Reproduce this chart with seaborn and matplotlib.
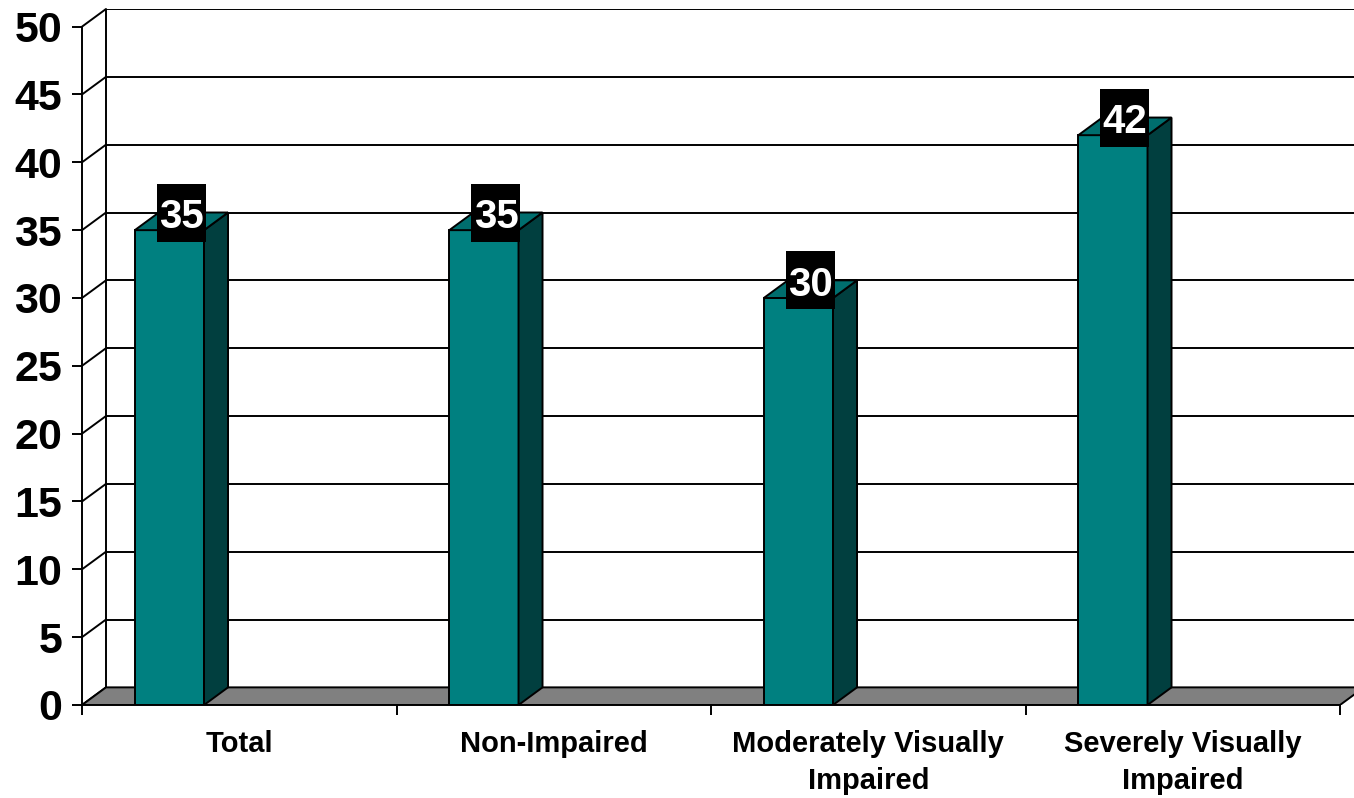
import numpy as np
import pandas as pd
import matplotlib
matplotlib.use("Agg")
import matplotlib.pyplot as plt
from matplotlib.patches import Polygon, Rectangle
import seaborn as sns

# Data
groups = ["Total", "Non-Impaired", "Moderately Visually\nImpaired", "Severely Visually\nImpaired"]
percent = [35, 35, 30, 42]
y_ticks = list(range(0, 55, 5))

df = pd.DataFrame({"group": groups, "percent": percent})

sns.set_style("white")
plt.rcParams["font.family"] = ["Liberation Sans", "DejaVu Sans"]
plt.rcParams["font.weight"] = "bold"
plt.rcParams["text.color"] = "black"
plt.rcParams["xtick.color"] = "black"
plt.rcParams["ytick.color"] = "black"

FRONT = "#008080"
SIDE = "#013f3f"
TOP = "#006e6e"
FLOOR = "#808080"
LW = 1.4

# Oblique depth offset of the 3-D frame (category units, value units)
DX = 0.0763
DY = 1.30
BAR_W = 0.22
# Category slots start a little left of each bar centre
SLOT_L = -0.278
n = len(groups)
slot_edges = [SLOT_L + k for k in range(n + 1)]

fig = plt.figure(figsize=(13.54, 7.98), dpi=100)
ax = fig.add_axes([82 / 1354, 93 / 798, 1 - 82 / 1354, 696 / 798])

# Bars (front faces)
sns.barplot(data=df, x="group", y="percent", order=groups, color=FRONT,
            saturation=1, width=BAR_W, edgecolor="black", linewidth=LW, ax=ax)

x_left, x_right = slot_edges[0], slot_edges[-1]

# Back wall and its gridlines
ax.add_patch(Rectangle((x_left + DX, DY), 10, y_ticks[-1], facecolor="white",
                       edgecolor="none", zorder=0.2))
for v in y_ticks[1:]:
    ax.plot([x_left + DX, x_right + DX + 1], [v + DY, v + DY], color="black",
            lw=LW, zorder=0.5, solid_capstyle="butt")
ax.plot([x_left + DX, x_left + DX], [DY, y_ticks[-1] + DY], color="black", lw=LW, zorder=0.5)

# Side wall lines
for v in y_ticks:
    ax.plot([x_left, x_left + DX], [v, v + DY], color="black", lw=LW, zorder=0.6,
            clip_on=False)

# Floor
ax.add_patch(Polygon([(x_left, 0), (x_right, 0), (x_right + DX, DY), (x_left + DX, DY)],
                     closed=True, facecolor=FLOOR, edgecolor="black", lw=LW,
                     zorder=1, clip_on=True))

# 3-D sides, tops and value labels for each bar
for bar, val in zip(ax.patches[:n], percent):
    bar.set_zorder(3)
    x0 = bar.get_x()
    x1 = x0 + bar.get_width()
    h = bar.get_height()
    ax.add_patch(Polygon([(x1, 0), (x1 + DX, DY), (x1 + DX, h + DY), (x1, h)], closed=True,
                         facecolor=SIDE, edgecolor="black", lw=LW, zorder=3))
    ax.add_patch(Polygon([(x0, h), (x1, h), (x1 + DX, h + DY), (x0 + DX, h + DY)], closed=True,
                         facecolor=TOP, edgecolor="black", lw=LW, zorder=3))
    cx = (x0 + x1) / 2 + DX / 2
    cy = h + DY
    bw, bh = 49 / 314.5, 58 / 13.566
    ax.add_patch(Rectangle((cx - bw / 2, cy - bh / 2), bw, bh, facecolor="black",
                           edgecolor="none", zorder=4))
    ax.annotate(f"{val:g}", (cx, cy), xytext=(0, -11), textcoords="offset points",
                ha="center", va="baseline", color="white", fontsize=29,
                fontweight="bold", zorder=5)

# Axes limits and frame
ax.set_xlim(x_left, x_left + 1272 / 314.5)
ax.set_ylim(0, y_ticks[-1] + DY)
for s in ["top", "right"]:
    ax.spines[s].set_visible(False)
ax.spines["left"].set_bounds(0, y_ticks[-1])
ax.spines["bottom"].set_bounds(x_left, x_right)
for s in ["left", "bottom"]:
    ax.spines[s].set_linewidth(LW)
    ax.spines[s].set_color("black")
    ax.spines[s].set_zorder(6)

ax.set_yticks(y_ticks)
ax.set_yticklabels([str(v) for v in y_ticks], fontsize=31, fontweight="bold", color="black")
ax.tick_params(axis="y", direction="out", length=7.2, width=LW, pad=7, left=True,
               color="black", labelcolor="black")

centers = [k + 0.5 + SLOT_L for k in range(n)]
ax.set_xticks(centers)
ax.set_xticklabels(groups, fontsize=21, fontweight="bold", linespacing=1.42, color="black")
ax.set_xticks(slot_edges, minor=True)
ax.tick_params(axis="x", which="major", length=0, pad=18, labelcolor="black")
ax.tick_params(axis="x", which="minor", direction="out", length=7.2, width=LW,
               bottom=True, color="black")
ax.set_xlabel("")
ax.set_ylabel("")
ax.grid(False)
ax.set_facecolor("white")
fig.patch.set_facecolor("white")

fig.savefig("out.png", dpi=100)
